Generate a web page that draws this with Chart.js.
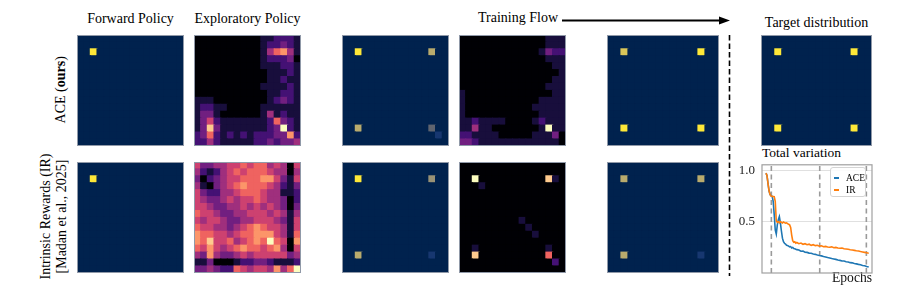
<!DOCTYPE html>
<html>
<head>
<meta charset="utf-8">
<script src="https://cdn.jsdelivr.net/npm/chart.js@4.4.1/dist/chart.umd.min.js"></script>
<style>
  body { margin: 0; width: 897px; height: 303px; background: #fff; position: relative; overflow: hidden;
         font-family: 'Liberation Serif', 'Times New Roman', serif; color: #000; }
  .ttl { position: absolute; font-size: 14px; line-height: 14px; white-space: nowrap; }
  .rot { position: absolute; width: 200px; font-size: 14px; line-height: 15.5px; text-align: center;
         white-space: nowrap; transform: rotate(-90deg); }
  canvas { position: absolute; }
  #legend { position: absolute; left: 830px; top: 167px; width: 36px; height: 30px; border: 1px solid #d4d4d4;
            border-radius: 3px; background: rgba(255,255,255,0.85); font-size: 9.5px; line-height: 12px;
            padding-top: 4px; box-sizing: border-box; }
  #legend div { white-space: nowrap; }
  #legend span { display: inline-block; width: 5px; height: 2px; margin: 0 7px 2px 3px; vertical-align: middle; }
</style>
</head>
<body>

<div class="ttl" style="left:30px;width:201px;top:12px;text-align:center">Forward Policy</div>
<div class="ttl" style="left:147px;width:201px;top:12px;text-align:center">Exploratory Policy</div>
<div class="ttl" style="left:478px;top:11px">Training Flow</div>
<div class="ttl" style="left:716px;width:201px;top:16px;text-align:center">Target distribution</div>
<div class="ttl" style="left:762px;top:146px;font-size:13.5px;line-height:13.5px">Total variation</div>

<div class="rot" style="left:-39px;top:82px">ACE (<b>ours</b>)</div>
<div class="rot" style="left:-47px;top:201px">Intrinsic Rewards (IR)<br>[Madan et al., 2025]</div>

<svg style="position:absolute;left:558px;top:14px" width="177" height="14">
  <line x1="4" y1="6.5" x2="164" y2="6.5" stroke="#000" stroke-width="1.8"/>
  <polygon points="161,2.5 172,6.5 161,10.5" fill="#000"/>
</svg>
<svg style="position:absolute;left:724px;top:34px" width="12" height="244">
  <line x1="5.5" y1="1" x2="5.5" y2="242" stroke="#000" stroke-width="1.6" stroke-dasharray="5.5 3"/>
</svg>

<canvas id="tv" width="170" height="150" style="left:720px;top:150px"></canvas>
<div id="legend"></div>

<script>
// heatmaps: 16x16 cells, one digit per cell (0 low .. 9 high), top row first
const fwdACE = [
  '0000000000000000', '0000000000000000', '0090000000000000', '0000000000000000',
  '0000000000000000', '0000000000000000', '0000000000000000', '0000000000000000',
  '0000000000000000', '0000000000000000', '0000000000000000', '0000000000000000',
  '0000000000000000', '0000000000000000', '0000000000000000', '0000000000000000'
];
const fwdIR = [
  '0000000000000000', '0000000000000000', '0090000000000000', '0000000000000000',
  '0000000000000000', '0000000000000000', '0000000000000000', '0000000000000000',
  '0000000000000000', '0000000000000000', '0000000000000000', '0000000000000000',
  '0000000000000000', '0000000000000000', '0000000000000000', '0000000000000000'
];
const expACE = [
  '0000000000112221', '0000000000122321', '0000000000146741', '0000000000122230',
  '0000000000111221', '0000000000011121', '0000000000011211', '0000000000111121',
  '0000000000011221', '1110000000012321', '1221100000111111', '1331000000141211',
  '1352111111126321', '1383111111123921', '2362121212223372', '2242111112232334'
];
const expIR = [
  '5334455656645405', '4212456566654404', '3023455666775315', '4103456766654213',
  '5322445666544112', '5433454556544302', '5543344545454303', '6554334455545414',
  '5455433445554315', '6554434567655415', '7665545667775416', '7685564567696507',
  '6575456766567405', '4374334545555534', '1130001223321112', '3343226545547469'
];
const midFwdACE = [
  '0000000000000000', '0000000000000000', '0090000000000600', '0000000000000000',
  '0000000000000000', '0000000000000000', '0000000000000000', '0000000000000000',
  '0000000000000000', '0000000000000000', '0000000000000000', '0000000000000000',
  '0000000000000000', '0060000000000300', '0000000000000010', '0000000000000000'
];
const midFwdIR = [
  '0000000000000000', '0000000000000000', '0090000000000500', '0000000000000000',
  '0000000000000000', '0000000000000000', '0000000000000000', '0000000000000000',
  '0000000000000000', '0000000000000000', '0000000000000000', '0000000000000000',
  '0000000000000000', '0060000000000100', '0000000000000000', '0000000000000000'
];
const midExpACE = [
  '0000000000000111', '0000000000000111', '0000000000001322', '0000000000000111',
  '0000000000000011', '0000000000000001', '0000000000000011', '0000000000000111',
  '1000000000000011', '1000000000001111', '1000000000011111', '1000000000001111',
  '1121111000012111', '1141100000001911', '2211110000011130', '3321111111111110'
];
const midExpIR = [
  '0000000000000000', '0000000000000000', '0090000000000810', '0001000000000000',
  '0000000000000000', '0000000000000000', '0000000000000000', '0000000000000000',
  '0000000001000000', '0000000000100000', '0000000000010000', '0000000000000000',
  '0010000000000100', '0080000000000600', '0000000000000020', '0000000000000000'
];
const endFwdACE = [
  '0000000000000000', '0000000000000000', '0070000000000900', '0000000000000000',
  '0000000000000000', '0000000000000000', '0000000000000000', '0000000000000000',
  '0000000000000000', '0000000000000000', '0000000000000000', '0000000000000000',
  '0000000000000000', '0090000000000900', '0000000000000000', '0000000000000000'
];
const endFwdIR = [
  '0000000000000000', '0000000000000000', '0060000000000600', '0000000000000000',
  '0000000000000000', '0000000000000000', '0000000000000000', '0000000000000000',
  '0000000000000000', '0000000000000000', '0000000000000000', '0000000000000000',
  '0000000000000000', '0060000000000100', '0000000000000000', '0000000000000000'
];
const target = [
  '0000000000000000', '0000000000000000', '0090000000000900', '0000000000000000',
  '0000000000000000', '0000000000000000', '0000000000000000', '0000000000000000',
  '0000000000000000', '0000000000000000', '0000000000000000', '0000000000000000',
  '0000000000000000', '0090000000000900', '0000000000000000', '0000000000000000'
];

// total variation curves
const epochs = [0, 1, 2, 3, 4, 5, 6, 7, 8, 9, 10, 11, 12, 13, 14, 15, 16, 17, 18, 19, 20,
  21, 22, 23, 24, 25, 26, 27, 28, 29, 30, 32, 34, 36, 38, 40, 42, 44, 46, 48, 50,
  52, 54, 56, 58, 60, 62, 64, 66, 68, 70, 72, 74, 76, 78, 80, 82, 84, 86, 88, 90,
  92, 94, 96, 98, 100];
const aceTV = [0.975, 0.95, 0.87, 0.8, 0.765, 0.752, 0.748, 0.7, 0.57, 0.42, 0.38,
  0.47, 0.52, 0.55, 0.49, 0.41, 0.34, 0.305, 0.29, 0.282, 0.27,
  0.268, 0.262, 0.255, 0.258, 0.245, 0.25, 0.238, 0.236, 0.232, 0.228,
  0.224, 0.213, 0.214, 0.203, 0.201, 0.194, 0.192, 0.186, 0.182, 0.176,
  0.171, 0.167, 0.161, 0.157, 0.151, 0.147, 0.141, 0.137, 0.133, 0.126,
  0.123, 0.117, 0.117, 0.11, 0.108, 0.101, 0.099, 0.093, 0.089, 0.084,
  0.081, 0.074, 0.071, 0.064, 0.058];
const irTV = [0.975, 0.95, 0.87, 0.8, 0.765, 0.75, 0.748, 0.746, 0.744, 0.7, 0.51,
  0.495, 0.502, 0.49, 0.5, 0.495, 0.488, 0.498, 0.492, 0.486, 0.49,
  0.482, 0.476, 0.47, 0.445, 0.37, 0.315, 0.3, 0.305, 0.292, 0.298,
  0.286, 0.292, 0.28, 0.286, 0.276, 0.281, 0.27, 0.276, 0.267, 0.271,
  0.262, 0.266, 0.257, 0.26, 0.254, 0.251, 0.255, 0.247, 0.25, 0.244,
  0.241, 0.244, 0.237, 0.234, 0.231, 0.227, 0.224, 0.221, 0.217, 0.214,
  0.209, 0.205, 0.201, 0.197, 0.193];
const dashEpochs = [5.2, 52.3, 97.7];
const tvTicks = [0.5, 1.0];
const seriesNames = ['ACE', 'IR'];
const seriesColors = ['#1f77b4', '#ff7f0e'];

const MAGMA = ['#000004', '#140e36', '#3b0f70', '#641a80', '#8c2981', '#b73779',
  '#de4968', '#f7705c', '#fe9f6d', '#fecf92', '#fcfdbf'];
const CIVIDIS = ['#00224e', '#123570', '#3b496c', '#575d6d', '#707173', '#8a8678',
  '#a59c74', '#c3b369', '#e1cc55', '#f0da45', '#fee838'];

const hex = s => [1, 3, 5].map(i => parseInt(s.slice(i, i + 2), 16));
function colorAt(stops, t) {
  const p = Math.min(Math.max(t, 0), 1) * (stops.length - 1);
  const i = Math.min(Math.floor(p), stops.length - 2);
  const f = p - i;
  const a = hex(stops[i]), b = hex(stops[i + 1]);
  return 'rgb(' + a.map((v, k) => Math.round(v + (b[k] - v) * f)).join(',') + ')';
}

const panelBorder = {
  id: 'panelBorder',
  afterDraw(chart) {
    const { ctx, chartArea: a } = chart;
    ctx.save();
    ctx.strokeStyle = '#9099a8';
    ctx.lineWidth = 1;
    ctx.strokeRect(a.left + 0.5, a.top + 0.5, a.width - 1, a.height - 1);
    ctx.restore();
  }
};

// where each panel sits on the page
const panels = [
  { rows: fwdACE, map: CIVIDIS, x: 77, y: 35, w: 107, h: 111 },
  { rows: fwdIR, map: CIVIDIS, x: 77, y: 162, w: 107, h: 111 },
  { rows: expACE, map: MAGMA, x: 194, y: 35, w: 107, h: 111 },
  { rows: expIR, map: MAGMA, x: 194, y: 162, w: 107, h: 111 },
  { rows: midFwdACE, map: CIVIDIS, x: 342, y: 35, w: 107, h: 111 },
  { rows: midFwdIR, map: CIVIDIS, x: 342, y: 162, w: 107, h: 111 },
  { rows: midExpACE, map: MAGMA, x: 459, y: 35, w: 107, h: 111 },
  { rows: midExpIR, map: MAGMA, x: 459, y: 162, w: 107, h: 111 },
  { rows: endFwdACE, map: CIVIDIS, x: 607, y: 35, w: 112, h: 111 },
  { rows: endFwdIR, map: CIVIDIS, x: 607, y: 162, w: 112, h: 111 },
  { rows: target, map: CIVIDIS, x: 761, y: 35, w: 111, h: 111 }
];

function drawHeatmap(p) {
  const cv = document.createElement('canvas');
  cv.width = p.w;
  cv.height = p.h;
  cv.style.left = p.x + 'px';
  cv.style.top = p.y + 'px';
  document.body.appendChild(cv);
  const cols = p.rows[0].split('').map((_, c) => c);
  new Chart(cv, {
    type: 'bar',
    data: {
      labels: cols,
      // bars stack bottom-up, so the last row goes first
      datasets: p.rows.slice().reverse().map(row => ({
        data: cols.map(() => 1),
        backgroundColor: row.split('').map(d => colorAt(p.map, Number(d) / 9)),
        borderWidth: 0,
        inflateAmount: 0.6,
        barPercentage: 1,
        categoryPercentage: 1
      }))
    },
    options: {
      responsive: false,
      animation: false,
      events: [],
      layout: { padding: 0 },
      scales: {
        x: { display: false, stacked: true },
        y: { display: false, stacked: true, min: 0, max: p.rows.length }
      },
      plugins: { legend: { display: false }, tooltip: { enabled: false } }
    },
    plugins: [panelBorder]
  });
}
panels.forEach(drawHeatmap);

// total variation plot
const tvMin = 0, tvMax = 1.056;
const frame = {
  id: 'frame',
  afterDraw(chart) {
    const { ctx, chartArea: a } = chart;
    ctx.save();
    ctx.strokeStyle = '#a0a0a0';
    ctx.lineWidth = 1.2;
    ctx.strokeRect(a.left, a.top, a.width, a.height);
    ctx.restore();
  }
};
const serif = "'Liberation Serif', 'Times New Roman', serif";

new Chart(document.getElementById('tv'), {
  type: 'line',
  data: {
    datasets: [
      { label: 'IR', data: epochs.map((e, i) => ({ x: e, y: irTV[i] })), borderColor: seriesColors[1],
        borderWidth: 1.6, pointRadius: 0, order: 0 },
      { label: 'ACE', data: epochs.map((e, i) => ({ x: e, y: aceTV[i] })), borderColor: seriesColors[0],
        borderWidth: 1.6, pointRadius: 0, order: 1 },
      ...dashEpochs.map(e => ({ label: '', data: [{ x: e, y: tvMin }, { x: e, y: tvMax }],
        borderColor: '#9a9a9a', borderDash: [5, 3.5], borderWidth: 1.6, pointRadius: 0, order: 2 }))
    ]
  },
  options: {
    responsive: false,
    animation: false,
    events: [],
    layout: { padding: { left: 10, top: 9, right: 18, bottom: 0 } },
    scales: {
      x: {
        type: 'linear', min: -3.9, max: 103.2,
        grid: { display: false }, border: { display: false }, ticks: { display: false },
        title: { display: true, text: 'Epochs', align: 'end', color: '#111',
                 font: { family: serif, size: 13.6 }, padding: { top: 0, bottom: 13 } },
        afterFit(s) { s.height = 27; }
      },
      y: {
        min: tvMin, max: tvMax,
        border: { display: false },
        grid: { color: 'rgba(0,0,0,0.12)', drawTicks: false },
        ticks: { padding: 7, color: '#222', font: { family: serif, size: 13 }, callback: v => v.toFixed(1) },
        afterBuildTicks(s) { s.ticks = tvTicks.map(v => ({ value: v })); },
        afterFit(s) { s.width = 32; }
      }
    },
    plugins: { legend: { display: false }, tooltip: { enabled: false } }
  },
  plugins: [frame]
});

const legend = document.getElementById('legend');
seriesNames.forEach((n, i) => {
  legend.innerHTML += '<div><span style="background:' + seriesColors[i] + '"></span>' + n + '</div>';
});
</script>
</body>
</html>
